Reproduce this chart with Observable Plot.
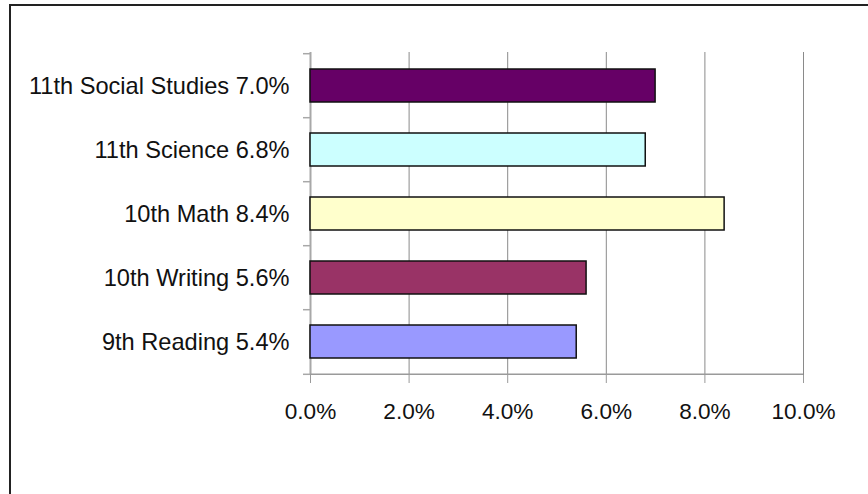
<!DOCTYPE html>
<html>
<head>
<meta charset="utf-8">
<script src="https://cdn.jsdelivr.net/npm/d3@7"></script>
<script src="https://cdn.jsdelivr.net/npm/@observablehq/plot@0.6"></script>
<style>
  html, body { margin: 0; padding: 0; background: #fff; overflow: hidden; width: 868px; height: 494px; }
  #frame { position: absolute; left: 9px; top: 4px; width: 1000px; height: 600px;
           border-left: 2px solid #222; border-top: 2px solid #222; }
  #chart { position: absolute; left: 0; top: 0; }
</style>
</head>
<body>
<div id="frame"></div>
<div id="chart"></div>
<script>
const categories = ["11th Social Studies", "11th Science", "10th Math", "10th Writing", "9th Reading"];
const values = [0.070, 0.068, 0.084, 0.056, 0.054];
const colors = ["#660066", "#CCFFFF", "#FFFFCC", "#993366", "#9999FF"];
const xTicks = [0, 0.02, 0.04, 0.06, 0.08, 0.10];

const data = categories.map((c, i) => ({category: c, value: values[i], color: colors[i]}));
const fmt = d3.format(".1%");
const labelOf = new Map(data.map(d => [d.category, `${d.category} ${fmt(d.value)}`]));

const W = 868, H = 494, mt = 52, mb = 119, ml = 310, mr = 65;
const step = (H - mt - mb) / categories.length;
const tickLen = 7 * (0.1 / (W - ml - mr)); // 7px in data units

const chart = Plot.plot({
  width: W,
  height: H,
  marginTop: mt,
  marginBottom: mb,
  marginLeft: ml,
  marginRight: mr,
  style: {fontFamily: "'Liberation Sans', Arial, sans-serif", background: "transparent", overflow: "visible"},
  x: {domain: [0, 0.1], ticks: xTicks},
  y: {domain: categories, paddingInner: 0.49, paddingOuter: 0.245},
  marks: [
    Plot.ruleX(xTicks.slice(1), {stroke: "#8a8a8a", strokeWidth: 1}),
    Plot.ruleX([0], {stroke: "#a8a8a8", strokeWidth: 2}),
    Plot.ruleY([categories[categories.length - 1]], {x1: 0, x2: 0.1, dy: step / 2, stroke: "#9a9a9a", strokeWidth: 1.5}),
    Plot.ruleY(categories, {x1: -tickLen, x2: 0, dy: -step / 2, stroke: "#a8a8a8", strokeWidth: 1.5}),
    Plot.ruleY([categories[categories.length - 1]], {x1: -tickLen, x2: 0, dy: step / 2, stroke: "#a8a8a8", strokeWidth: 1.5}),
    Plot.barX(data, {y: "category", x: "value", fill: "color", stroke: "#111", strokeWidth: 1.5}),
    Plot.axisX({ticks: xTicks, tickFormat: fmt, tickSize: 8, tickPadding: 19, stroke: "#9a9a9a",
                fontSize: 22.6, fill: "#111", label: null}),
    Plot.axisY({tickSize: 0, tickPadding: 21, tickFormat: d => labelOf.get(d), fontSize: 23.6, fill: "#111", label: null})
  ]
});
chart.querySelectorAll("text").forEach(t => t.setAttribute("fill", "#111"));
document.getElementById("chart").appendChild(chart);
</script>
</body>
</html>
